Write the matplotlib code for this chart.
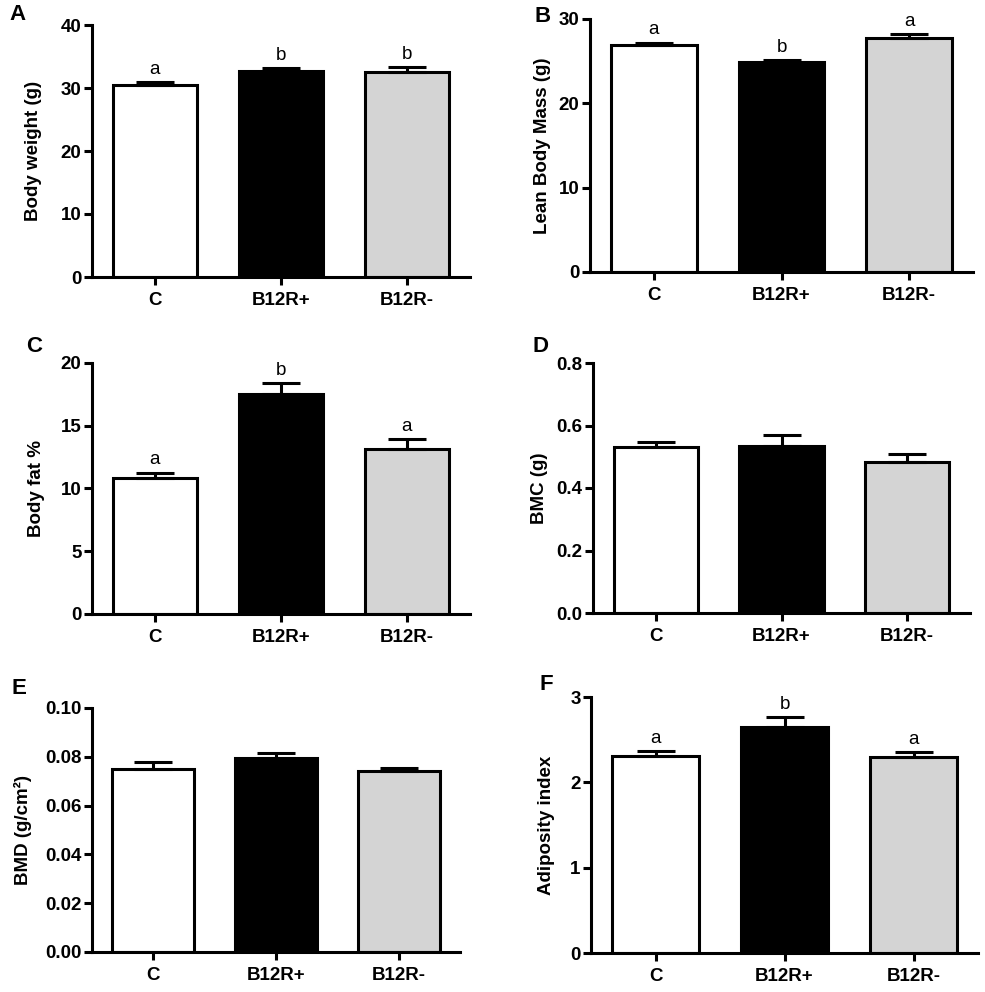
import numpy as np
import matplotlib
matplotlib.use("Agg")
import matplotlib.pyplot as plt

plt.rcParams['font.family'] = ['Liberation Sans', 'DejaVu Sans']

groups = ["C", "B12R+", "B12R-"]
bar_colors = ["white", "black", "#d4d4d4"]

body_weight = [30.5, 32.75, 32.6]
body_weight_err = [0.4, 0.35, 0.7]
body_weight_sig = ["a", "b", "b"]

lean_mass = [26.9, 24.9, 27.7]
lean_mass_err = [0.3, 0.2, 0.5]
lean_mass_sig = ["a", "b", "a"]

body_fat = [10.83, 17.55, 13.14]
body_fat_err = [0.44, 0.85, 0.8]
body_fat_sig = ["a", "b", "a"]

bmc = [0.530, 0.533, 0.482]
bmc_err = [0.016, 0.037, 0.026]

bmd = [0.0752, 0.0795, 0.0741]
bmd_err = [0.0027, 0.0021, 0.0015]

adiposity = [2.304, 2.644, 2.297]
adiposity_err = [0.067, 0.122, 0.058]
adiposity_sig = ["a", "b", "a"]

W, H = 985, 992
fig = plt.figure(figsize=(W / 100, H / 100), dpi=100)


def make_ax(x0, x1, y0, y1):
    # pixel box -> figure fraction
    return fig.add_axes([x0 / W, 1 - y1 / H, (x1 - x0) / W, (y1 - y0) / H])


panels = [
    # letter, box, values, errors, sig, ylabel, yticks, fmt, label x, letter pos
    ("A", (92, 470, 25, 277), body_weight, body_weight_err, body_weight_sig,
     "Body weight (g)", [0, 10, 20, 30, 40], "%d", -0.156, (17, 14)),
    ("B", (590, 973, 19, 272), lean_mass, lean_mass_err, lean_mass_sig,
     "Lean Body Mass (g)", [0, 10, 20, 30], "%d", -0.123, (543, 17)),
    ("C", (92, 470, 363, 614), body_fat, body_fat_err, body_fat_sig,
     "Body fat %", [0, 5, 10, 15, 20], "%d", -0.148, (34, 346)),
    ("D", (593, 970, 363, 613), bmc, bmc_err, None,
     "BMC (g)", [0.0, 0.2, 0.4, 0.6, 0.8], "%.1f", -0.141, (541, 346)),
    ("E", (92, 460, 708, 952), bmd, bmd_err, None,
     "BMD (g/cm²)", [0.0, 0.02, 0.04, 0.06, 0.08, 0.10], "%.2f", -0.1875, (19, 688)),
    ("F", (591, 978, 697, 953), adiposity, adiposity_err, adiposity_sig,
     "Adiposity index", [0, 1, 2, 3], "%d", -0.116, (546, 685)),
]

x = np.arange(len(groups))
for letter, box, vals, errs, sig, ylab, yticks, fmt, labx, lpos in panels:
    ax = make_ax(*box)
    ax.bar(x, vals, width=0.67, color=bar_colors, edgecolor="black", linewidth=2.2, zorder=2)
    ax.errorbar(x, vals, yerr=[np.zeros(len(errs)), errs], fmt="none", ecolor="black",
                elinewidth=2.2, capsize=14, capthick=2.2, zorder=3)
    if sig is not None:
        for xi, v, e, s in zip(x, vals, errs, sig):
            ax.annotate(s, (xi, v + e), xytext=(0, 3), textcoords="offset points",
                        ha="center", va="bottom", fontsize=13.5)
    ax.set_xlim(-0.5, 2.5)
    ax.set_ylim(yticks[0], yticks[-1])
    ax.set_yticks(yticks)
    ax.set_yticklabels([fmt % t for t in yticks])
    ax.set_xticks(x)
    ax.set_xticklabels(groups)
    for sp in ["top", "right"]:
        ax.spines[sp].set_visible(False)
    for sp in ["left", "bottom"]:
        ax.spines[sp].set_linewidth(2.2)
    ax.tick_params(axis="both", direction="out", length=6, width=2.2, labelsize=13.5)
    ax.tick_params(axis="y", pad=1.5)
    ax.tick_params(axis="x", pad=5)
    for lab in ax.get_xticklabels() + ax.get_yticklabels():
        lab.set_fontweight("bold")
    ax.set_ylabel(ylab, fontsize=13.5, fontweight="bold", va="center")
    ax.yaxis.set_label_coords(labx, 0.5)
    fig.text(lpos[0] / W, 1 - lpos[1] / H, letter, fontsize=16, fontweight="bold",
             ha="center", va="center")

fig.savefig("out.png", dpi=100)
